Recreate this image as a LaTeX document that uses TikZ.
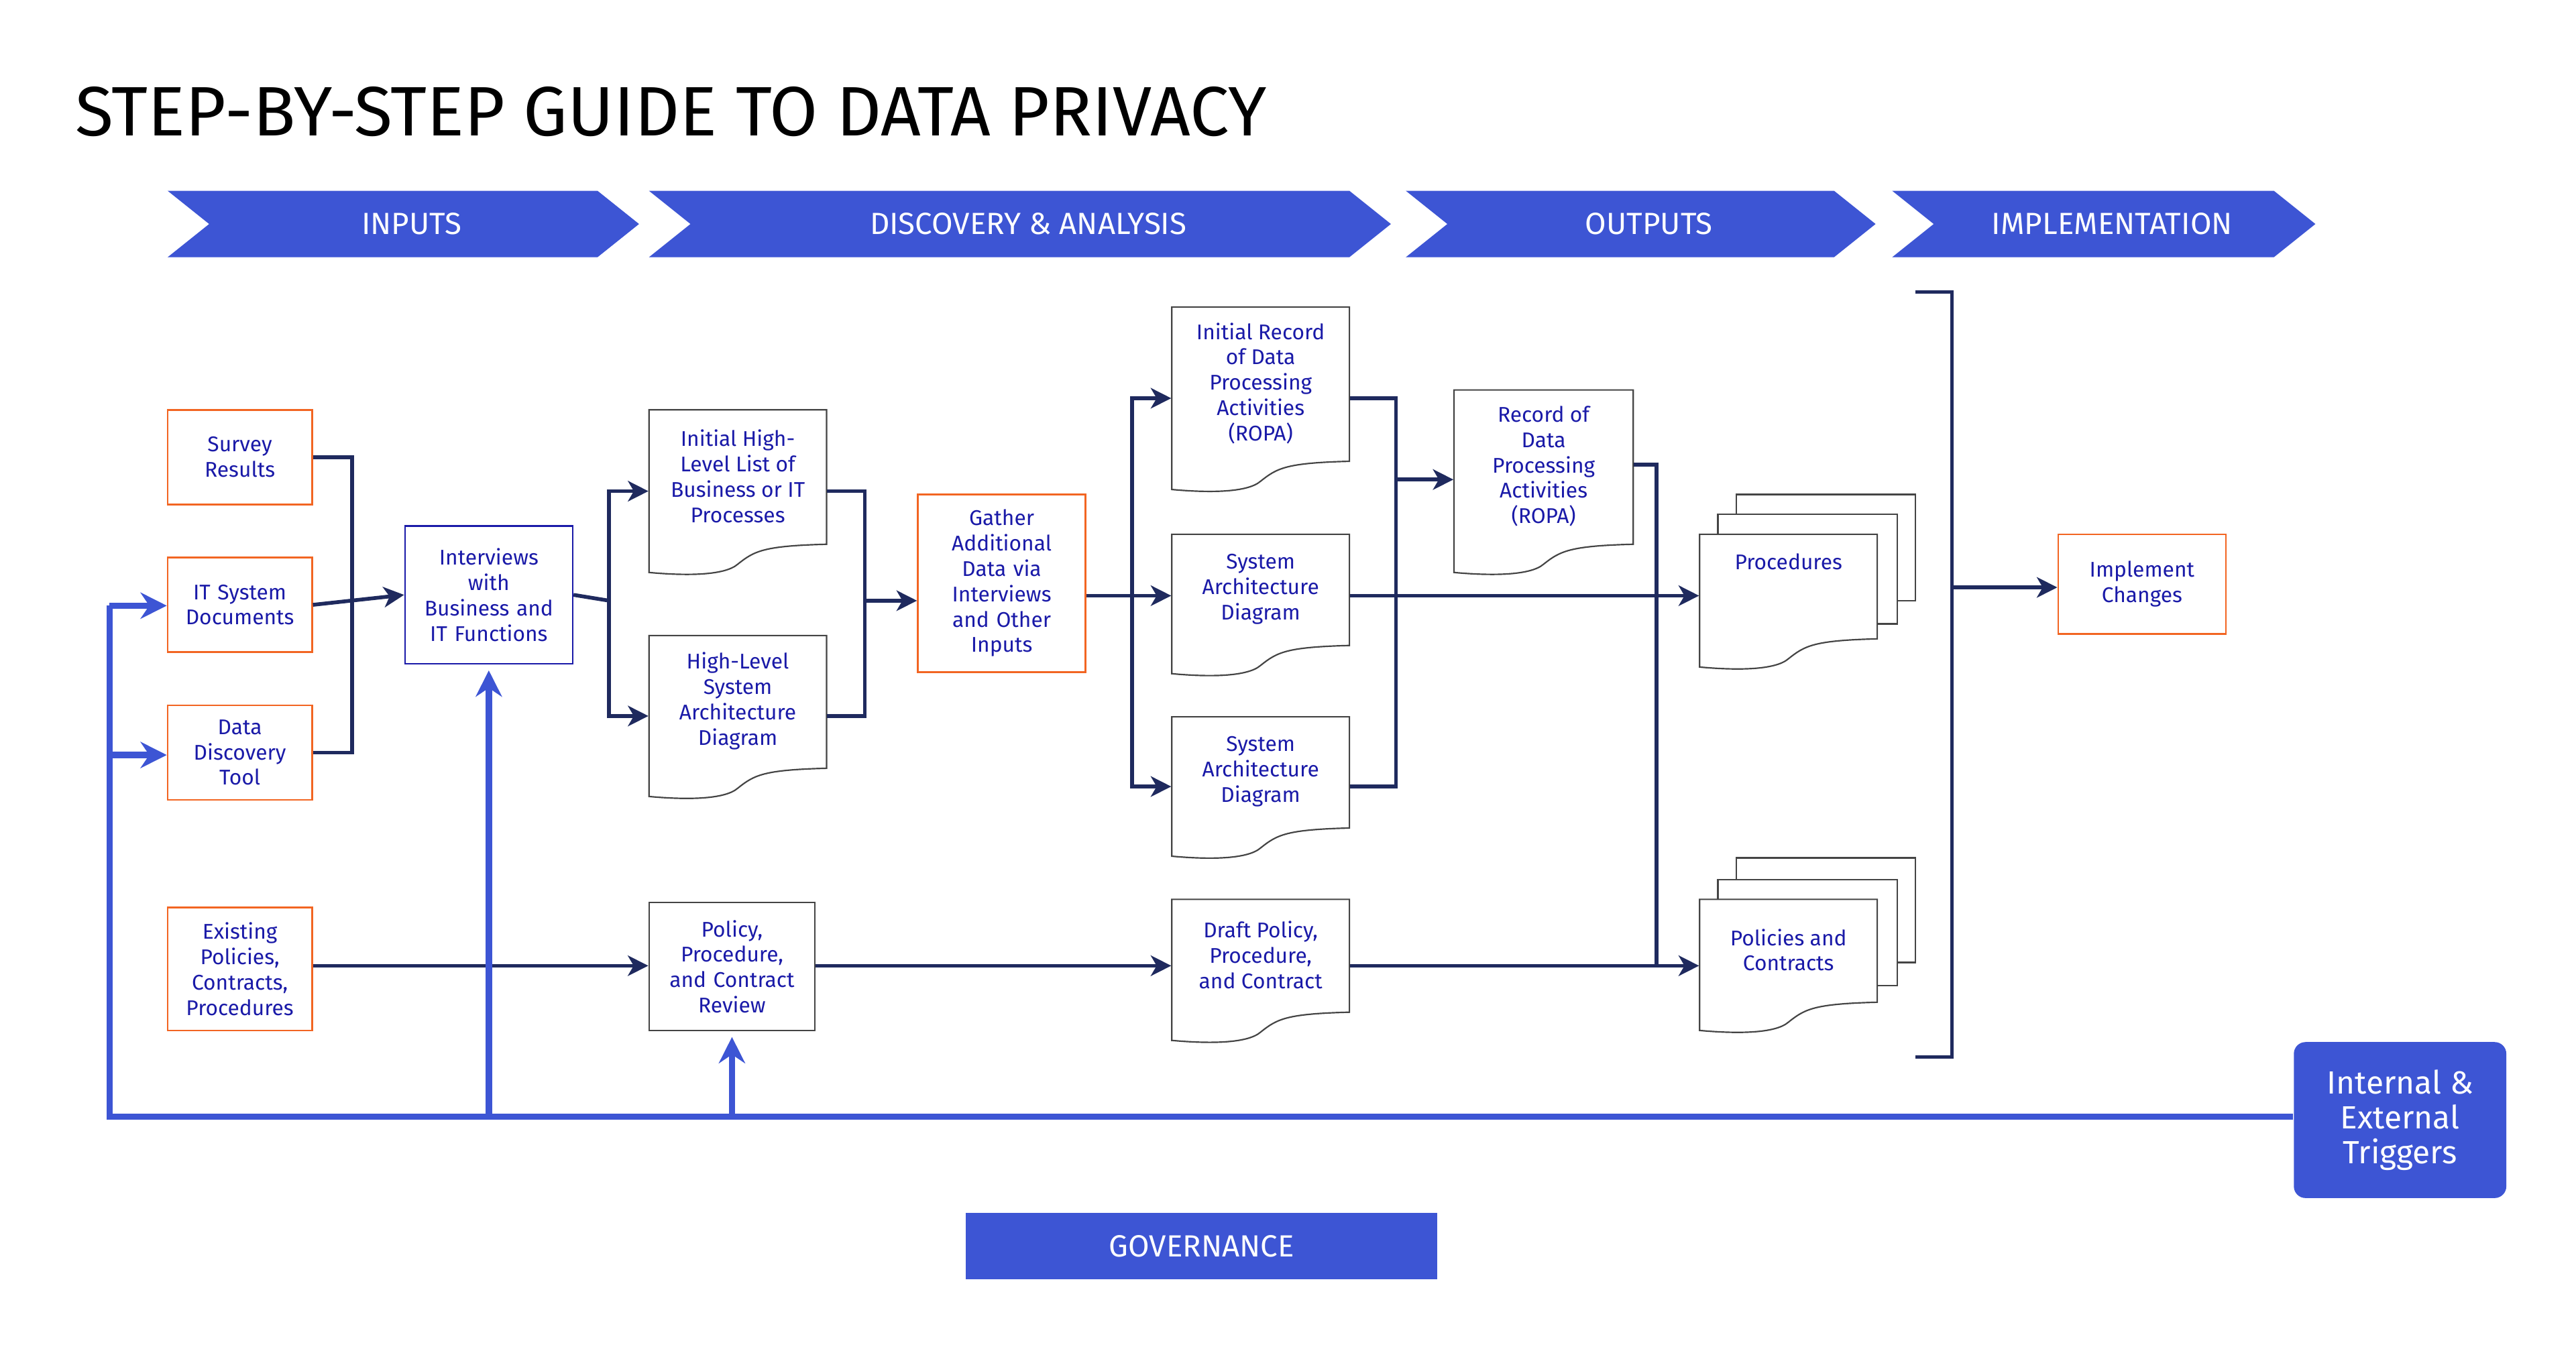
\documentclass[tikz,border=0pt]{standalone}
\usepackage{fontspec}
\setmainfont{Fira Sans}
\usetikzlibrary{arrows.meta}
\definecolor{navy}{HTML}{1F2A5E}
\definecolor{bblue}{HTML}{3D55D4}
\definecolor{orng}{HTML}{F26522}
\definecolor{txtc}{HTML}{1A1AA8}
\definecolor{gline}{HTML}{444444}
\tikzset{
  txt/.style={text=txtc, align=center, font=\fontsize{7.3}{8.7}\selectfont, inner sep=0pt},
  obox/.style={draw=orng, line width=0.6pt, fill=white, txt},
  bbox/.style={draw=txtc, line width=0.6pt, fill=white, txt},
  gbox/.style={draw=gline, line width=0.5pt, fill=white, txt},
  docline/.style={draw=gline, line width=0.5pt, fill=white},
  conn/.style={draw=navy, line width=1.3pt},
  carr/.style={conn, -{Stealth[length=7pt,width=7pt,inset=2pt]}},
  fb/.style={draw=bblue, line width=2.2pt},
  fbarr/.style={fb, -{Stealth[length=9pt,width=9pt,inset=3pt]}},
  chev/.style={fill=bblue, draw=none},
  chevtxt/.style={text=white, font=\fontsize{10.5}{12}\selectfont},
}
\newcommand\pbox[7]{% style name l t r b text
  \node[#1, minimum width={0.02cm*(#5-#3)}, minimum height={0.02cm*(#6-#4)}, text width={0.02cm*(#5-#3)-6pt}] (#2) at ({(#3+#5)/2},{(#4+#6)/2}) {#7};}
\newcommand\docnode[6]{% name l t r b text
  \node[minimum width={0.02cm*(#4-#2)}, minimum height={0.02cm*(#5-#3)}, inner sep=0pt] (#1) at ({(#2+#4)/2},{(#3+#5)/2}) {};
  \path[docline] (#2,#3) -- (#4,#3) -- (#4,#5-17) .. controls (#4-38,#5-16) and ({(#2+#4)/2+10},#5-13) .. ({(#2+#4)/2},#5-5) .. controls ({(#2+#4)/2-8},#5+2) and (#2+22,#5+2) .. (#2,#5) -- cycle;
  \node[txt] (#1-t) at ({(#2+#4)/2},{(#3+#5)/2-9}) {#6};}
\newcommand\chevron[4]{% name l r text
  \path[chev] (#2,115) -- (#3-25,115) -- (#3,135) -- (#3-25,155) -- (#2,155) -- (#2+25,135) -- cycle;
  \node[chevtxt] (#1) at ({(#2+#3)/2+5},135) {#4};}
\begin{document}
\begin{tikzpicture}[x=0.02cm,y=-0.02cm]
\useasboundingbox (0,0) rectangle (1552,814);
\node[anchor=base west, font=\fontsize{24}{28}\selectfont, inner sep=0pt] (title) at (45,82) {STEP-BY-STEP GUIDE TO DATA PRIVACY};
\chevron{hin}{101}{385}{INPUTS}
\chevron{hdisc}{391}{838}{DISCOVERY \& ANALYSIS}
\chevron{hout}{847}{1130}{OUTPUTS}
\chevron{himp}{1140}{1395}{IMPLEMENTATION}

% inputs
\pbox{obox}{surv}{101}{247}{188}{304}{Survey\\Results}
\pbox{obox}{itsys}{101}{336}{188}{393}{IT System\\Documents}
\pbox{obox}{ddt}{101}{425}{188}{482}{Data\\Discovery\\Tool}
\pbox{obox}{exist}{101}{547}{188}{621}{Existing\\Policies,\\Contracts,\\Procedures}
\pbox{bbox}{intv}{244}{317}{345}{400}{Interviews\\with\\Business and\\IT Functions}
\docnode{hl1}{391}{247}{498}{345}{Initial High-\\Level List of\\Business or IT\\Processes}
\docnode{hl2}{391}{383}{498}{480}{High-Level\\System\\Architecture\\Diagram}
\pbox{obox}{gath}{553}{298}{654}{405}{Gather\\Additional\\Data via\\Interviews\\and Other\\Inputs}
\pbox{gbox}{rev}{391}{544}{491}{621}{Policy,\\Procedure,\\and Contract\\Review}
\docnode{irec}{706}{185}{813}{295}{Initial Record\\of Data\\Processing\\Activities\\(ROPA)}
\docnode{sa1}{706}{322}{813}{406}{System\\Architecture\\Diagram}
\docnode{sa2}{706}{432}{813}{516}{System\\Architecture\\Diagram}
\docnode{draft}{706}{542}{813}{627}{Draft Policy,\\Procedure,\\and Contract}
\docnode{rec}{876}{235}{984}{345}{Record of\\Data\\Processing\\Activities\\(ROPA)}
% stacks
\path[docline] (1046,298) rectangle (1154,362);
\path[docline] (1035,310) rectangle (1143,376);
\docnode{proc}{1024}{322}{1131}{402}{Procedures\\[8pt]}
\path[docline] (1046,517) rectangle (1154,580);
\path[docline] (1035,530) rectangle (1143,594);
\docnode{pol}{1024}{542}{1131}{621}{Policies and\\Contracts}
\pbox{obox}{impl}{1240}{322}{1341}{382}{Implement\\Changes}
\node[fill=bblue, rounded corners=4pt, minimum width={0.02cm*128}, minimum height={0.02cm*94}, text=white, align=center, font=\fontsize{11}{12}\selectfont] (trig) at (1446,675) {Internal \&\\External\\Triggers};
\node[fill=bblue, minimum width={0.02cm*284}, minimum height={0.02cm*40}, text=white, font=\fontsize{10.5}{12}\selectfont] (gov) at (724,751) {GOVERNANCE};

% bracket
\coordinate (bt) at (1176,176);
\coordinate (bb) at (1176,637);
\draw[conn] (1154,176) -- (bt) -- (bb) -- (1154,637);
\coordinate (bm) at (1176,354);
\draw[carr] (bm) -- (impl.west |- bm);

% connectors
\coordinate (j1) at (212,362);
\draw[conn] (surv.east) -| (j1) |- (ddt.east);
\draw[carr] (itsys.east) -- (intv.west);
\coordinate (j2) at (367,362);
\draw[conn] (intv.east) -- (j2);
\draw[carr] (j2) |- (hl1.west);
\draw[carr] (j2) |- (hl2.west);
\coordinate (j3) at (521,362);
\draw[conn] (hl1.east) -| (j3) |- (hl2.east);
\draw[carr] (j3) -- (gath.west |- j3);
\coordinate (j4) at (682,359);
\draw[conn] (gath.east |- j4) -- (j4);
\draw[carr] (j4) |- (irec.west);
\draw[carr] (j4) -- (sa1.west |- j4);
\draw[carr] (j4) |- (sa2.west);
\coordinate (j5) at (841,289);
\draw[conn] (irec.east) -| (j5) |- (sa2.east);
\draw[carr] (j5) -- (rec.west |- j5);
\draw[carr] (sa1.east |- j4) -- (proc.west |- j4);
\coordinate (j6) at (998,582);
\draw[conn] (rec.east |- 0,280) -| (j6);
\draw[carr] (exist.east |- j6) -- (rev.west |- j6);
\draw[carr] (rev.east |- j6) -- (draft.west |- j6);
\draw[carr] (draft.east |- j6) -- (pol.west |- j6);

% feedback
\coordinate (fl) at (66,673);
\draw[fb] (trig.west |- fl) -- (fl) -- (66,365);
\draw[fbarr] (66,365) -- (itsys.west |- 0,365);
\draw[fbarr] (66,455) -- (ddt.west |- 0,455);
\draw[fbarr] (intv.south |- fl) -- ([yshift=-2pt]intv.south);
\draw[fbarr] (rev.south |- fl) -- ([yshift=-2pt]rev.south);
\end{tikzpicture}
\end{document}
